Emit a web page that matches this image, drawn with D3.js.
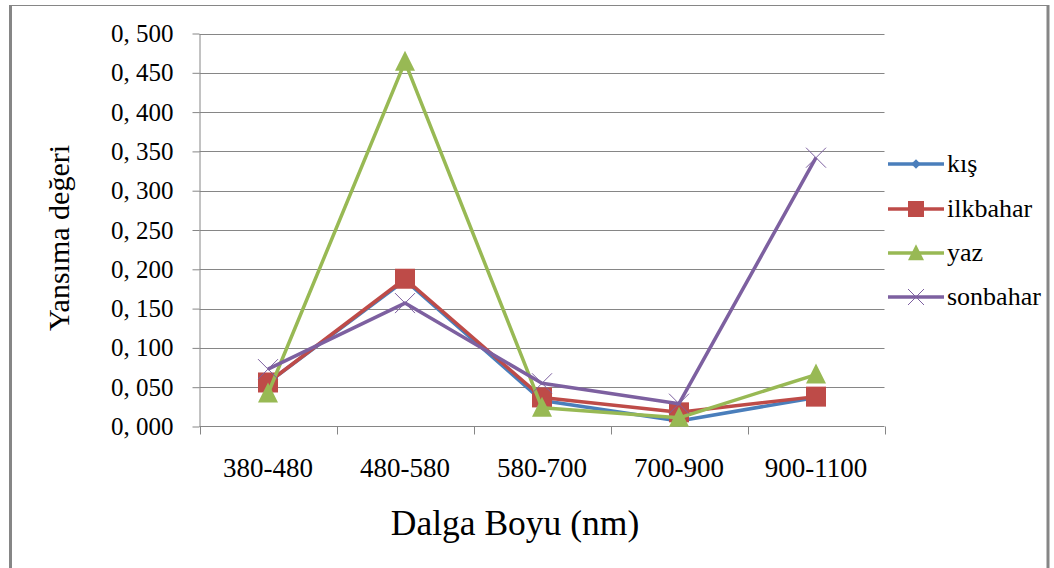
<!DOCTYPE html>
<html>
<head>
<meta charset="utf-8">
<script src="https://cdn.jsdelivr.net/npm/d3@7"></script>
<style>
  body { margin: 0; background: #fff; }
</style>
</head>
<body>
<div id="chart"></div>
<script>
// categories and series values
const categories = ['380-480', '480-580', '580-700', '700-900', '900-1100'];
const kis = [0.056, 0.186, 0.033, 0.007, 0.037];
const ilkbahar = [0.056, 0.188, 0.037, 0.018, 0.038];
const yaz = [0.042, 0.464, 0.024, 0.011, 0.066];
const sonbahar = [0.073, 0.157, 0.055, 0.029, 0.342];
const yTicks = [0, 0.05, 0.1, 0.15, 0.2, 0.25, 0.3, 0.35, 0.4, 0.45, 0.5];

const seriesNames = ['kış', 'ilkbahar', 'yaz', 'sonbahar'];
const seriesValues = [kis, ilkbahar, yaz, sonbahar];
const seriesColors = ['#4a7ebb', '#be4b48', '#98b954', '#7d60a0'];
const seriesMarkers = ['diamond', 'square', 'triangle', 'cross'];

const FONT = "'Liberation Serif'";
const width = 1054;
const height = 568;
const margin = { top: 33.5, right: 169.5, bottom: 141.5, left: 199.5 };

const svg = d3.select('#chart')
  .append('svg')
  .attr('width', width)
  .attr('height', height);

// outer chart frame
svg.append('line').attr('x1', 10).attr('x2', 1048).attr('y1', 5.5).attr('y2', 5.5)
  .attr('stroke', '#868686').attr('stroke-width', 1);
svg.append('line').attr('x1', 10.5).attr('x2', 10.5).attr('y1', 5).attr('y2', height)
  .attr('stroke', '#868686').attr('stroke-width', 3);
svg.append('line').attr('x1', 1048).attr('x2', 1048).attr('y1', 5).attr('y2', height)
  .attr('stroke', '#868686').attr('stroke-width', 3);

const x = d3.scaleBand()
  .domain(categories)
  .range([margin.left, width - margin.right]);

const y = d3.scaleLinear()
  .domain([0, 0.5])
  .range([height - margin.bottom, margin.top]);

const fmt = d3.formatLocale({ decimal: ',', thousands: '.', grouping: [3], currency: ['', ''] }).format('.3f');

// gridlines
svg.append('g')
  .selectAll('line')
  .data(yTicks.slice(1))
  .enter()
  .append('line')
  .attr('x1', margin.left)
  .attr('x2', width - margin.right)
  .attr('y1', d => Math.round(y(d)) + 0.5)
  .attr('y2', d => Math.round(y(d)) + 0.5)
  .attr('stroke', '#868686');

// y axis
const yAxis = d3.axisLeft(y)
  .tickValues(yTicks)
  .tickFormat(d => fmt(d).replace(',', ', '))
  .tickSize(7)
  .tickPadding(19)
  .tickSizeOuter(0);
const gy = svg.append('g')
  .attr('transform', `translate(${margin.left},0)`)
  .call(yAxis);
gy.select('.domain').attr('stroke', '#868686');
gy.selectAll('.tick line').attr('stroke', '#868686');
gy.selectAll('.tick text')
  .style('font-family', FONT)
  .style('font-size', '25px')
  .style('white-space', 'pre')
  .attr('fill', '#000');

// x axis
const gx = svg.append('g')
  .attr('transform', `translate(0,${height - margin.bottom})`);
gx.append('line')
  .attr('x1', margin.left).attr('x2', width - margin.right)
  .attr('stroke', '#868686');
const bounds = categories.map(c => x(c)).concat([x(categories[categories.length - 1]) + x.bandwidth()]);
gx.selectAll('.xtick')
  .data(bounds)
  .enter()
  .append('line')
  .attr('x1', d => Math.round(d) + 0.5)
  .attr('x2', d => Math.round(d) + 0.5)
  .attr('y1', 0).attr('y2', 8)
  .attr('stroke', '#868686');
gx.selectAll('.xlabel')
  .data(categories)
  .enter()
  .append('text')
  .attr('x', d => x(d) + x.bandwidth() / 2)
  .attr('y', 50)
  .attr('text-anchor', 'middle')
  .style('font-family', FONT)
  .style('font-size', '27px')
  .text(d => d);

// axis titles
svg.append('text')
  .attr('x', 515)
  .attr('y', 535)
  .attr('text-anchor', 'middle')
  .style('font-family', FONT)
  .style('font-size', '35.5px')
  .text('Dalga Boyu (nm)');
svg.append('text')
  .attr('transform', 'rotate(-90)')
  .attr('x', -238)
  .attr('y', 69)
  .attr('text-anchor', 'middle')
  .style('font-family', FONT)
  .style('font-size', '30px')
  .text('Yansıma değeri');

function drawMarker(g, type, color, cx, cy, s) {
  if (type === 'diamond') {
    const r = 6 * s;
    g.append('path')
      .attr('d', `M${cx},${cy - r}L${cx + r},${cy}L${cx},${cy + r}L${cx - r},${cy}Z`)
      .attr('fill', color);
  } else if (type === 'square') {
    const r = 10 * s;
    g.append('rect')
      .attr('x', cx - r).attr('y', cy - r)
      .attr('width', 2 * r).attr('height', 2 * r)
      .attr('fill', color);
  } else if (type === 'triangle') {
    const r = 10 * s;
    g.append('path')
      .attr('d', `M${cx},${cy - 1.1 * r}L${cx + r},${cy + 0.9 * r}L${cx - r},${cy + 0.9 * r}Z`)
      .attr('fill', color);
  } else {
    const r = 10 * s;
    g.append('path')
      .attr('d', `M${cx - r},${cy - r}L${cx + r},${cy + r}M${cx + r},${cy - r}L${cx - r},${cy + r}`)
      .attr('stroke', color)
      .attr('stroke-width', 1);
  }
}

const line = d3.line()
  .x((d, i) => x(categories[i]) + x.bandwidth() / 2)
  .y(d => y(d));

seriesValues.forEach((vals, si) => {
  const g = svg.append('g');
  g.append('path')
    .datum(vals)
    .attr('d', line)
    .attr('fill', 'none')
    .attr('stroke', seriesColors[si])
    .attr('stroke-width', 3.5)
    .attr('stroke-linejoin', 'round');
  vals.forEach((v, i) => {
    drawMarker(g, seriesMarkers[si], seriesColors[si], x(categories[i]) + x.bandwidth() / 2, y(v), 1);
  });
});

// legend
const legend = svg.append('g');
const legendY = [164, 209, 253, 297];
seriesNames.forEach((name, si) => {
  const g = legend.append('g');
  g.append('line')
    .attr('x1', 888).attr('x2', 944)
    .attr('y1', legendY[si]).attr('y2', legendY[si])
    .attr('stroke', seriesColors[si])
    .attr('stroke-width', 3.5);
  drawMarker(g, seriesMarkers[si], seriesColors[si], 916, legendY[si], 0.8);
  g.append('text')
    .attr('x', 947)
    .attr('y', legendY[si] + 8)
    .style('font-family', FONT)
    .style('font-size', '26px')
    .text(name);
});
</script>
</body>
</html>
